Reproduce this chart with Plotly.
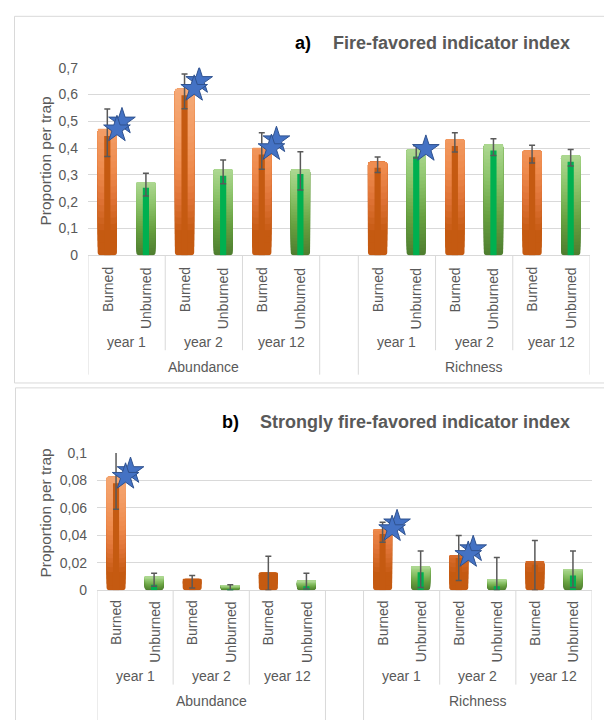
import plotly.graph_objects as go

W, H = 604, 720

# ---------------- data ----------------
groups = ["Abundance", "Richness"]
years = ["year 1", "year 2", "year 12"]
treatments = ["Burned", "Unburned"]

# order: Abundance (y1 B, y1 U, y2 B, y2 U, y12 B, y12 U), Richness (same)
a_outer = [0.470, 0.274, 0.621, 0.321, 0.400, 0.321, 0.349, 0.397, 0.433, 0.414, 0.391, 0.373]
a_inner = [0.445, 0.252, 0.597, 0.297, 0.376, 0.303, 0.327, 0.369, 0.408, 0.391, 0.366, 0.349]
a_err_hi = [0.546, 0.306, 0.676, 0.356, 0.457, 0.386, 0.367, 0.409, 0.457, 0.435, 0.411, 0.395]
a_err_lo = [0.369, 0.221, 0.547, 0.267, 0.321, 0.244, 0.309, 0.363, 0.385, 0.372, 0.344, 0.333]
a_stars = [2, 0, 2, 0, 2, 0, 0, 1, 0, 0, 0, 0]

b_outer = [0.0826, 0.0100, 0.0084, 0.0038, 0.0129, 0.0069, 0.0445, 0.0174, 0.0257, 0.0079, 0.0207, 0.0155]
b_inner = [0.0779, 0.0040, 0.0075, 0.0010, 0.0115, 0.0030, 0.0410, 0.0131, 0.0235, 0.0030, 0.0185, 0.0107]
b_err_hi = [0.1017, 0.0124, 0.0107, 0.0041, 0.0248, 0.0124, 0.0495, 0.0286, 0.0398, 0.0238, 0.0362, 0.0286]
b_err_lo = [0.0590, 0.0029, 0.0017, 0.0000, 0.0000, 0.0010, 0.0350, 0.0020, 0.0071, 0.0000, 0.0000, 0.0020]
b_stars = [2, 0, 0, 0, 0, 0, 2, 0, 2, 0, 0, 0]

a_ticks = [0, 0.1, 0.2, 0.3, 0.4, 0.5, 0.6, 0.7]
a_ticktext = ["0", "0,1", "0,2", "0,3", "0,4", "0,5", "0,6", "0,7"]
b_ticks = [0, 0.02, 0.04, 0.06, 0.08, 0.1]
b_ticktext = ["0", "0,02", "0,04", "0,06", "0,08", "0,1"]

title_a = ("a)", "Fire-favored indicator index")
title_b = ("b)", "Strongly fire-favored indicator index")
ytitle = "Proportion per trap"

# ---------------- style ----------------
FONT = "Liberation Sans, Arial, sans-serif"
GREY_TXT = "#595959"
LINE = "#d9d9d9"
ORANGE_STOPS = [(0.0, "#c55a11"), (0.12, "#c55a11"), (0.28, "#dd7134"),
                (0.45, "#ee8a4c"), (0.65, "#f39c64"), (1.0, "#f6b080")]
GREEN_STOPS = [(0.0, "#4e7d2f"), (0.35, "#67a040"), (0.7, "#8dc46b"), (1.0, "#aed892")]
ORANGE_INNER = "#c55a11"
GREEN_INNER = "#00b050"
N_BANDS = 30


def hex2rgb(h):
    h = h.lstrip("#")
    return tuple(int(h[i:i + 2], 16) for i in (0, 2, 4))


def interp(stops, t):
    t = max(0.0, min(1.0, t))
    for (t0, c0), (t1, c1) in zip(stops[:-1], stops[1:]):
        if t <= t1:
            f = (t - t0) / (t1 - t0) if t1 > t0 else 0
            a, b = hex2rgb(c0), hex2rgb(c1)
            return "rgb(%d,%d,%d)" % tuple(round(a[i] + (b[i] - a[i]) * f) for i in range(3))
    return stops[-1][1]


# category layout: 6 Abundance slots, one empty slot, 6 Richness slots
slots = [0, 1, 2, 3, 4, 5, 7, 8, 9, 10, 11, 12]
treat_of = [treatments[i % 2] for i in range(12)]
year_of = [years[(i % 6) // 2] for i in range(12)]
group_of = [groups[i // 6] for i in range(12)]


def px_x(p):
    return p / W


def px_y(p):
    return 1 - p / H


fig = go.Figure()

panels = [
    dict(xa="x", ya="y", outer=a_outer, inner=a_inner, hi=a_err_hi, lo=a_err_lo,
         stars=a_stars, ymax=0.7, xdom=(88, 590), ydom=(253, 61),
         ticks=a_ticks, ticktext=a_ticktext, title=title_a,
         title_y=36, title_split=(313, 331), ytitle_y=157,
         lab_top=263, year_y=342, group_y=367, year_line_end=350, group_line_end=375,
         frame=(14.5, 8.5, 640, 383.5)),
    dict(xa="x2", ya="y2", outer=b_outer, inner=b_inner, hi=b_err_hi, lo=b_err_lo,
         stars=b_stars, ymax=0.1, xdom=(97, 592), ydom=(595.5, 455),
         ticks=b_ticks, ticktext=b_ticktext, title=title_b,
         title_y=423, title_split=(241, 258), ytitle_y=517,
         lab_top=604, year_y=683, group_y=709, year_line_end=692, group_line_end=730,
         frame=(15.5, 388.5, 640, 740)),
]

shapes = []
annotations = []

for p in panels:
    xa, ya = p["xa"], p["ya"]
    ymax = p["ymax"]
    outer = p["outer"]
    # gradient bands for the wide bars (each band runs from its start up to the bar top)
    for k in range(N_BANDS):
        xs, bases, ys, cols = [], [], [], []
        for i, v in enumerate(outer):
            if treat_of[i] == "Burned":
                b0 = k * ymax / N_BANDS
                col = interp(ORANGE_STOPS, (k + 0.5) / N_BANDS)
            else:
                b0 = v * k / N_BANDS
                col = interp(GREEN_STOPS, (k + 0.5) / N_BANDS)
            if v > b0:
                xs.append(slots[i])
                bases.append(b0)
                ys.append(v - b0)
                cols.append(col)
        if xs:
            fig.add_trace(go.Bar(x=xs, y=ys, base=bases, width=0.5, xaxis=xa, yaxis=ya,
                                 marker=dict(color=cols, line=dict(width=0), cornerradius=3),
                                 showlegend=False, hoverinfo="skip"))
    # narrow inner bars with error bars
    inner = p["inner"]
    fig.add_trace(go.Bar(
        x=slots, y=inner, width=0.16, xaxis=xa, yaxis=ya,
        marker=dict(color=[ORANGE_INNER if t == "Burned" else GREEN_INNER for t in treat_of],
                    line=dict(width=0)),
        error_y=dict(type="data", symmetric=False,
                     array=[h - v for h, v in zip(p["hi"], inner)],
                     arrayminus=[max(0, v - l) for v, l in zip(inner, p["lo"])],
                     color="#595959", thickness=1.5, width=3),
        showlegend=False, hoverinfo="skip"))
    # significance stars
    rng = ymax
    sx_hi, sy_hi, sx_lo, sy_lo = [], [], [], []
    for i, n in enumerate(p["stars"]):
        if n >= 1:
            sx_lo.append(slots[i] + 0.25)
            sy_lo.append(outer[i])
        if n >= 2:
            sx_hi.append(slots[i] + 0.38)
            sy_hi.append(outer[i] + 0.042 * rng)
    star_marker = dict(symbol="star", size=20, color="#4472c4",
                       line=dict(color="#2f528f", width=1))
    fig.add_trace(go.Scatter(x=sx_hi, y=sy_hi, mode="markers", marker=star_marker,
                             xaxis=xa, yaxis=ya, showlegend=False, hoverinfo="skip"))
    fig.add_trace(go.Scatter(x=sx_lo, y=sy_lo, mode="markers", marker=star_marker,
                             xaxis=xa, yaxis=ya, showlegend=False, hoverinfo="skip"))

    # frame
    fx0, fy0, fx1, fy1 = p["frame"]
    shapes.append(dict(type="rect", xref="paper", yref="paper",
                       x0=px_x(fx0), x1=px_x(fx1), y0=px_y(fy0), y1=px_y(fy1),
                       line=dict(color=LINE, width=1), fillcolor="rgba(0,0,0,0)", layer="below"))
    # titles
    annotations.append(dict(xref="paper", yref="paper", x=px_x(p["title_split"][0]),
                            y=px_y(p["title_y"]), xanchor="right", yanchor="middle",
                            text="<b>%s</b>" % p["title"][0], showarrow=False,
                            font=dict(family=FONT, size=18, color="#000000")))
    annotations.append(dict(xref="paper", yref="paper", x=px_x(p["title_split"][1]),
                            y=px_y(p["title_y"]), xanchor="left", yanchor="middle",
                            text="<b>%s</b>" % p["title"][1], showarrow=False,
                            font=dict(family=FONT, size=18, color=GREY_TXT)))
    # y title
    annotations.append(dict(xref="paper", yref="paper", x=px_x(46), y=px_y(p["ytitle_y"]),
                            xanchor="center", yanchor="middle", textangle=-90,
                            text=ytitle, showarrow=False,
                            font=dict(family=FONT, size=15.5, color=GREY_TXT)))
    # category labels
    axis_y = p["ydom"][0]
    for i in range(12):
        annotations.append(dict(xref=xa, yref="paper", x=slots[i], y=px_y(p["lab_top"]),
                                xanchor="center", yanchor="top", textangle=-90,
                                text=treat_of[i], showarrow=False,
                                font=dict(family=FONT, size=14, color=GREY_TXT)))
    for g in range(2):
        for yi in range(3):
            idx = [i for i in range(12) if group_of[i] == groups[g] and year_of[i] == years[yi]]
            xc = sum(slots[i] for i in idx) / len(idx)
            annotations.append(dict(xref=xa, yref="paper", x=xc, y=px_y(p["year_y"]),
                                    xanchor="center", yanchor="middle", text=years[yi],
                                    showarrow=False,
                                    font=dict(family=FONT, size=14, color=GREY_TXT)))
            if yi > 0:
                xb = slots[idx[0]] - 0.5
                shapes.append(dict(type="line", xref=xa, yref="paper", x0=xb, x1=xb,
                                   y0=px_y(axis_y), y1=px_y(p["year_line_end"]),
                                   line=dict(color=LINE, width=1)))
        idx = [i for i in range(12) if group_of[i] == groups[g]]
        xc = sum(slots[i] for i in idx) / len(idx)
        annotations.append(dict(xref=xa, yref="paper", x=xc, y=px_y(p["group_y"]),
                                xanchor="center", yanchor="middle", text=groups[g],
                                showarrow=False,
                                font=dict(family=FONT, size=14, color=GREY_TXT)))
        for xb in (slots[idx[0]] - 0.5, slots[idx[-1]] + 0.5):
            shapes.append(dict(type="line", xref=xa, yref="paper", x0=xb, x1=xb,
                               y0=px_y(axis_y), y1=px_y(p["group_line_end"]),
                               line=dict(color=LINE, width=1)))

xaxis_common = dict(range=[-0.5, 12.5], showgrid=False, zeroline=False,
                    showticklabels=False, ticks="", showline=False, fixedrange=True)


def yaxis_cfg(p, anchor):
    return dict(range=[0, p["ymax"]], tickvals=p["ticks"], ticktext=p["ticktext"],
                showgrid=True, gridcolor=LINE, gridwidth=1, zeroline=True,
                zerolinecolor=LINE, zerolinewidth=1, showline=False, ticks="",
                ticklabelstandoff=9,
                tickfont=dict(family=FONT, size=14, color=GREY_TXT),
                domain=[px_y(p["ydom"][0]), px_y(p["ydom"][1])], anchor=anchor,
                fixedrange=True)


fig.update_layout(
    width=W, height=H,
    margin=dict(l=0, r=0, t=0, b=0),
    paper_bgcolor="white", plot_bgcolor="rgba(0,0,0,0)",
    barmode="overlay",
    showlegend=False,
    xaxis=dict(xaxis_common, domain=[px_x(panels[0]["xdom"][0]), px_x(panels[0]["xdom"][1])],
               anchor="y"),
    yaxis=yaxis_cfg(panels[0], "x"),
    xaxis2=dict(xaxis_common, domain=[px_x(panels[1]["xdom"][0]), px_x(panels[1]["xdom"][1])],
                anchor="y2"),
    yaxis2=yaxis_cfg(panels[1], "x2"),
    shapes=shapes,
    annotations=annotations,
    font=dict(family=FONT, color=GREY_TXT),
)

fig.write_html("out.html", config={"displayModeBar": False},
               post_script="document.body.style.margin='0';document.body.style.padding='0';")
